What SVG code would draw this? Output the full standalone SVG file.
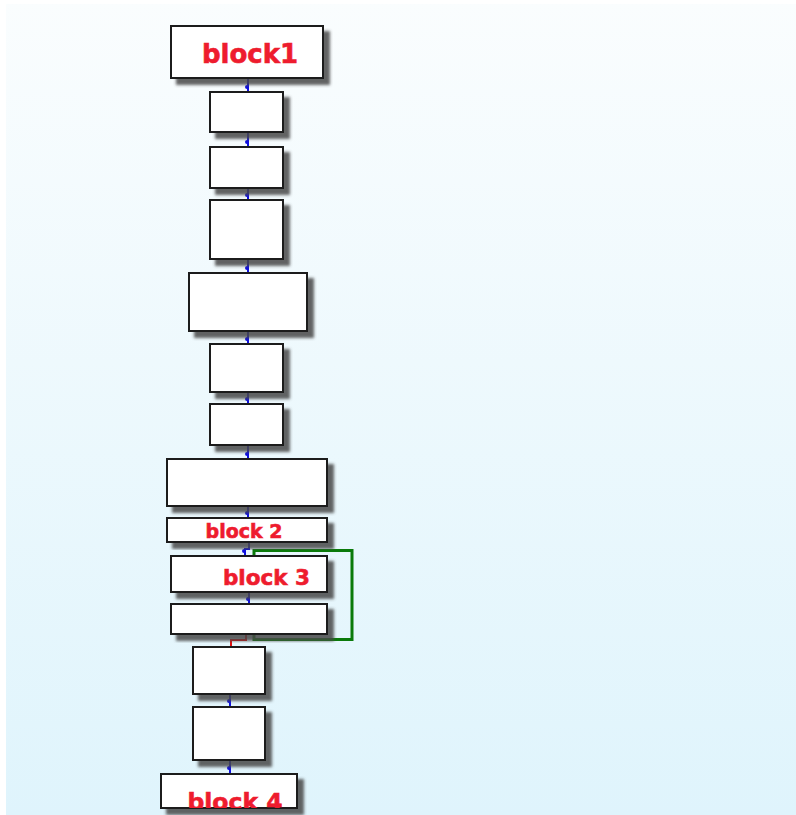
<svg xmlns="http://www.w3.org/2000/svg" width="796" height="815" viewBox="0 0 796 815">
  <defs>
    <linearGradient id="bg" gradientUnits="userSpaceOnUse" x1="0" y1="0" x2="0" y2="815">
      <stop offset="0" stop-color="#fafdfe"/>
      <stop offset="1" stop-color="#dff4fc"/>
    </linearGradient>
    <filter id="shadow" x="-10%" y="-10%" width="130%" height="140%">
      <feDropShadow dx="6" dy="6" stdDeviation="1.8" flood-color="#4a4a4a" flood-opacity="0.85"/>
    </filter>
    <clipPath id="clip4">
      <rect x="162" y="775" width="134" height="33"/>
    </clipPath>
  </defs>
  <style>
    .box { fill: #ffffff; stroke: #1a1a1a; stroke-width: 2; filter: url(#shadow); }
    .lbl { font-family: "DejaVu Sans", Verdana, sans-serif; font-weight: bold; fill: #ee1c2e; stroke: #ee1c2e; stroke-width: 0.6; text-anchor: middle; }
    .flow { fill: #1010e0; stroke: #1010e0; stroke-width: 2; }
    .flowline { fill: none; stroke: #1010e0; stroke-width: 2; }
    .loop { fill: none; stroke: #0a7a0a; stroke-width: 3; }
    .back { fill: none; stroke: #e01010; stroke-width: 2; }
  </style>

  <!-- background: pale sky gradient with a white margin on the left and top -->
  <rect x="-10" y="-10" width="820" height="840" fill="#dff4fc"/>
  <rect x="0" y="0" width="796" height="815" fill="url(#bg)"/>
  <rect x="0" y="0" width="6" height="815" fill="#ffffff"/>
  <rect x="0" y="0" width="796" height="4" fill="#ffffff"/>

  <!-- connectors -->
  <g id="connectors">
    <path class="flowline" d="M248,78 V92"/><circle class="flow" cx="247" cy="87" r="1"/>
    <path class="flowline" d="M248,132 V147"/><circle class="flow" cx="247" cy="142" r="1"/>
    <path class="flowline" d="M248,188 V200"/><circle class="flow" cx="247" cy="195" r="1"/>
    <path class="flowline" d="M248,259 V273"/><circle class="flow" cx="247" cy="268" r="1"/>
    <path class="flowline" d="M248,331 V344"/><circle class="flow" cx="247" cy="339" r="1"/>
    <path class="flowline" d="M248,392 V404"/><circle class="flow" cx="247" cy="399" r="1"/>
    <path class="flowline" d="M248,445 V459"/><circle class="flow" cx="247" cy="454" r="1"/>
    <path class="flowline" d="M248,506 V518"/><circle class="flow" cx="247" cy="513" r="1"/>
    <path class="flowline" d="M249,542 V549 H245 V556"/><circle class="flow" cx="244" cy="551" r="1"/>
    <path class="flowline" d="M249,592 V604"/><circle class="flow" cx="248" cy="599" r="1"/>
    <path class="back" d="M246,634 V640 H231 V647"/>
    <path class="flowline" d="M230,694 V707"/><circle class="flow" cx="229" cy="701" r="1"/>
    <path class="flowline" d="M230,760 V774"/><circle class="flow" cx="229" cy="768" r="1"/>
    <path class="loop" d="M254,556 V550.5 H352 V639.5 H254 V634"/>
  </g>

  <!-- nodes -->
  <g id="block1">
    <rect class="box" x="171" y="26" width="152" height="52"/>
    <text class="lbl" x="250" y="63" font-size="26">block1</text>
  </g>
  <g id="n2"><rect class="box" x="210" y="92" width="73" height="40"/></g>
  <g id="n3"><rect class="box" x="210" y="147" width="73" height="41"/></g>
  <g id="n4"><rect class="box" x="210" y="200" width="73" height="59"/></g>
  <g id="n5"><rect class="box" x="189" y="273" width="118" height="58"/></g>
  <g id="n6"><rect class="box" x="210" y="344" width="73" height="48"/></g>
  <g id="n7"><rect class="box" x="210" y="404" width="73" height="41"/></g>
  <g id="n8"><rect class="box" x="167" y="459" width="160" height="47"/></g>
  <g id="block2">
    <rect class="box" x="167" y="518" width="160" height="24"/>
    <text class="lbl" x="244" y="537.5" font-size="19">block 2</text>
  </g>
  <g id="block3">
    <rect class="box" x="171" y="556" width="156" height="36"/>
    <text class="lbl" x="266.5" y="585" font-size="21.5">block 3</text>
  </g>
  <g id="n11"><rect class="box" x="171" y="604" width="156" height="30"/></g>
  <g id="n12"><rect class="box" x="193" y="647" width="72" height="47"/></g>
  <g id="n13"><rect class="box" x="193" y="707" width="72" height="53"/></g>
  <g id="block4">
    <rect class="box" x="161" y="774" width="136" height="34"/>
    <text class="lbl" x="235" y="810" font-size="23.5" clip-path="url(#clip4)">block 4</text>
  </g>
</svg>
